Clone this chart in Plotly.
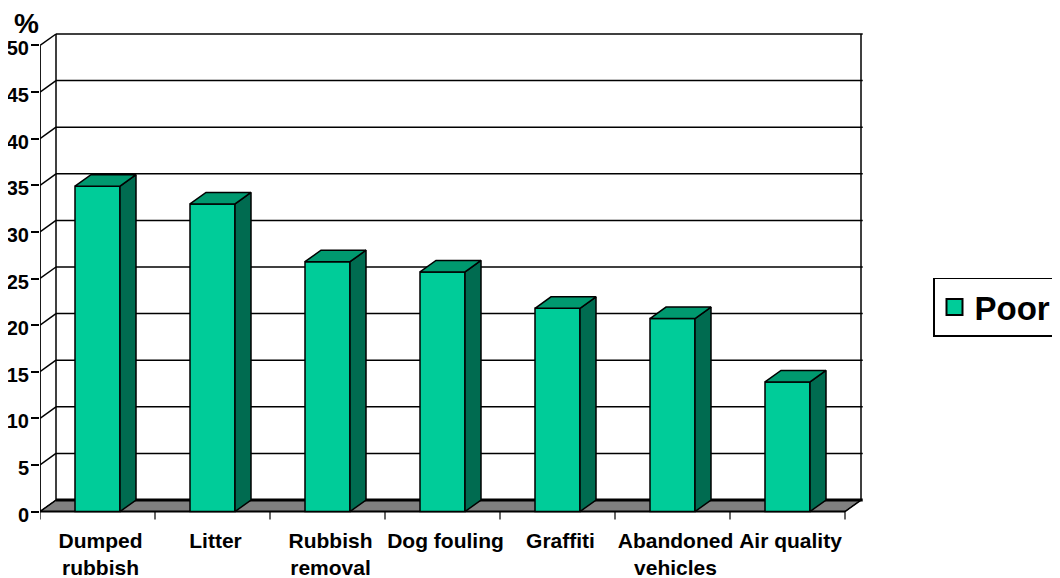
import plotly.graph_objects as go

categories = ["Dumped<br>rubbish", "Litter", "Rubbish<br>removal", "Dog fouling",
              "Graffiti", "Abandoned<br>vehicles", "Air quality"]
poor = [34.9, 33.0, 26.8, 25.7, 21.8, 20.7, 13.9]
y_ticks = [0, 5, 10, 15, 20, 25, 30, 35, 40, 45, 50]
series_name = "Poor"

FRONT, SIDE, TOP = "#00CC99", "#006B50", "#00996F"
FLOOR = "#808080"
FONT = "Liberation Sans"
PX_X, PX_Y = 115.0, 9.32      # pixels per category / per unit
DX, DY = 16 / PX_X, 11.5 / PX_Y   # depth of the fake 3-D box
BAR_W = 45 / PX_X
n = len(categories)
xs = list(range(n))
x0, x1 = -0.5, n - 0.5

shapes = []
def line(xa, ya, xb, yb, w=1.5):
    shapes.append(dict(type="line", xref="x", yref="y", layer="below", x0=xa, y0=ya, x1=xb, y1=yb,
                       line=dict(color="black", width=w)))

# floor
shapes.append(dict(type="path", xref="x", yref="y", layer="below",
                   path=f"M{x0},0 L{x1},0 L{x1+DX},{DY} L{x0+DX},{DY} Z",
                   fillcolor=FLOOR, line=dict(color="black", width=1)))
line(x0 + DX, DY, x1 + DX + 0.015, DY, 3)
# walls and gridlines
for v in y_ticks:
    line(x0, v, x0 + DX, v + DY)
    if v > 0:
        line(x0 + DX, v + DY, x1 + DX + 0.015, v + DY)
line(x0, 0, x0, y_ticks[-1], 1.8)
line(x0 + DX, DY, x0 + DX, y_ticks[-1] + DY)
line(x1 + DX, DY, x1 + DX, y_ticks[-1] + DY)
line(x0, 0, x1, 0, 2)
line(x1, 0, x1 + DX, DY)
# category boundary ticks
for i in range(n + 1):
    line(x0 + i, 0, x0 + i, -0.85, 1.2)

fig = go.Figure()
fig.add_trace(go.Bar(x=xs, y=poor, width=BAR_W, name=series_name, showlegend=False,
                     marker=dict(color=FRONT, line=dict(color="black", width=1.5))))
h = BAR_W / 2
for x, v in zip(xs, poor):
    fig.add_trace(go.Scatter(x=[x + h, x + h + DX, x + h + DX, x + h, x + h], y=[0, DY, v + DY, v, 0], mode="lines",
                             fill="toself", fillcolor=SIDE, line=dict(color="black", width=1.5),
                             showlegend=False, hoverinfo="skip"))
    fig.add_trace(go.Scatter(x=[x - h, x - h + DX, x + h + DX, x + h, x - h], y=[v, v + DY, v + DY, v, v], mode="lines",
                             fill="toself", fillcolor=TOP, line=dict(color="black", width=1.5),
                             showlegend=False, hoverinfo="skip"))
fig.add_trace(go.Scatter(x=[None], y=[None], mode="markers", name=series_name,
                         marker=dict(symbol="square", size=18, color=FRONT, line=dict(color="black", width=2))))

# the page has an 8 px body margin, so the figure is 8 px smaller on each far side
fig.update_layout(
    width=1052, height=570, autosize=False,
    margin=dict(l=32, r=197, t=25, b=58, pad=0),
    paper_bgcolor="white", plot_bgcolor="white",
    font=dict(family=FONT, color="black"),
    shapes=shapes,
    xaxis=dict(range=[x0, x0 + 823 / PX_X], tickmode="array", tickvals=xs, ticktext=categories, tickangle=0,
               ticks="", showgrid=False, zeroline=False, showline=False, automargin=False,
               tickfont=dict(family=FONT, size=21, weight=700, color="black"), ticklabelshift=3, ticklabelstandoff=6),
    yaxis=dict(range=[-0.91, 51.34], tickmode="array", tickvals=y_ticks, ticks="outside", ticklen=8, tickwidth=1.5,
               tickcolor="black", showgrid=False, zeroline=False, showline=False, automargin=False,
               tickfont=dict(family=FONT, size=20, weight=700, color="black"), ticklabelstandoff=-2, ticklabelshift=3),
    legend=dict(xref="container", yref="container", x=1049 / 1052, y=1 - 299 / 570, xanchor="right", yanchor="middle",
                bgcolor="white", bordercolor="black", borderwidth=1.5,
                font=dict(family=FONT, size=33, weight=700, color="black"), itemwidth=30,
                entrywidthmode="pixels", entrywidth=69),
    showlegend=True,
    annotations=[dict(text="%", xref="paper", yref="paper", x=-0.016, y=1.02, xanchor="center", yanchor="middle",
                      showarrow=False, font=dict(family=FONT, size=28, weight=700, color="black"))],
)
fig.write_html("out.html")
